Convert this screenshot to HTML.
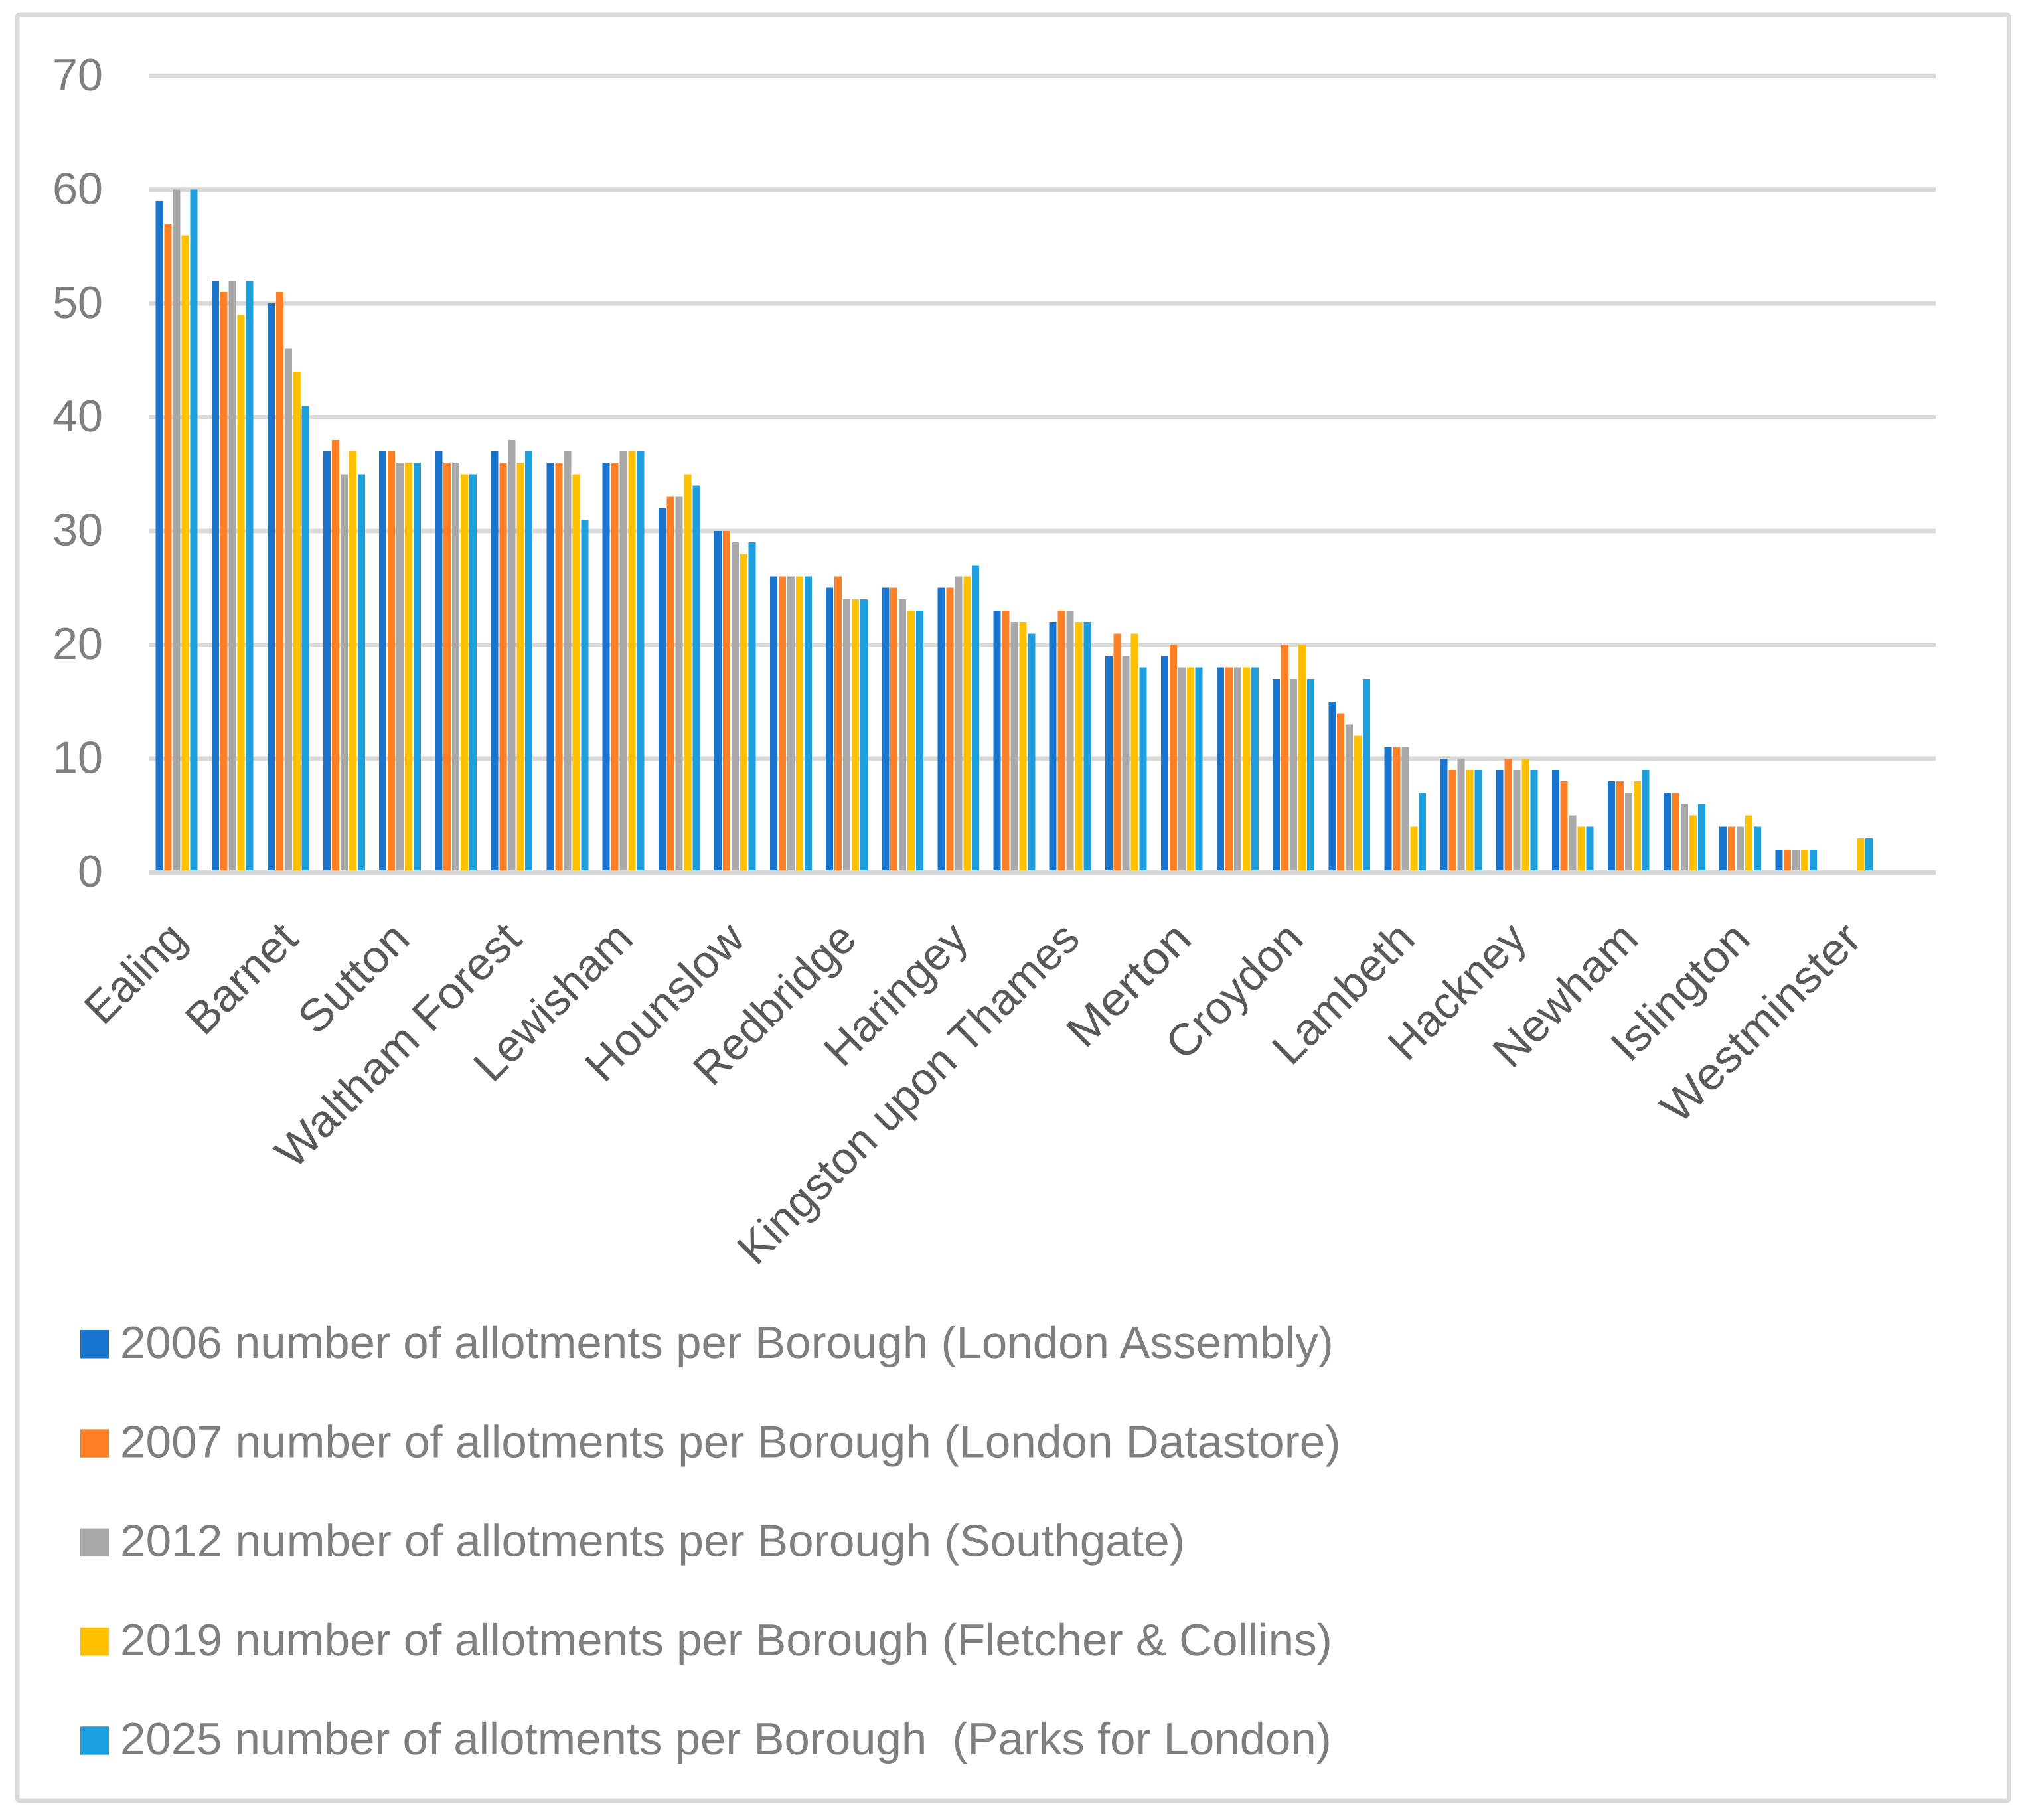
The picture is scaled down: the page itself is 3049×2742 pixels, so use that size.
<!DOCTYPE html>
<html lang="en">
<head>
<meta charset="utf-8">
<title>Number of allotments per London Borough</title>
<style>
html,body{margin:0;padding:0;background:#fff;width:3049px;height:2742px;overflow:hidden}
svg{display:block}
text{font-family:"Liberation Sans",Arial,sans-serif;white-space:pre;text-rendering:geometricPrecision}
</style>
</head>
<body>
<svg id="chart" xmlns="http://www.w3.org/2000/svg" width="3049" height="2742" viewBox="0 0 3049 2742">
  <rect x="0" y="0" width="3049" height="2742" fill="#ffffff"/>
  <rect x="26" y="22" width="3000.5" height="2691" rx="4" ry="4" fill="#ffffff" stroke="#d9d9d9" stroke-width="7"/>
  <g id="grid"></g>
  <g id="yticks"></g>
  <g id="bars"></g>
  <g id="axis"></g>
  <g id="xticks"></g>
  <g id="legend"></g>
</svg>
<script>
const categories = ["Ealing","","Barnet","","Sutton","","Waltham Forest","","Lewisham","","Hounslow","","Redbridge","","Haringey","","Kingston upon Thames","","Merton","","Croydon","","Lambeth","","Hackney","","Newham","","Islington","","Westminster",""];
const yTickLabels = [0,10,20,30,40,50,60,70];
const series2006 = [59,52,50,37,37,37,37,36,36,32,30,26,25,25,25,23,22,19,19,18,17,15,11,10,9,9,8,7,4,2,null,null];
const series2007 = [57,51,51,38,37,36,36,36,36,33,30,26,26,25,25,23,23,21,20,18,20,14,11,9,10,8,8,7,4,2,null,null];
const series2012 = [60,52,46,35,36,36,38,37,37,33,29,26,24,24,26,22,23,19,18,18,17,13,11,10,9,5,7,6,4,2,null,null];
const series2019 = [56,49,44,37,36,35,36,35,37,35,28,26,24,23,26,22,22,21,18,18,20,12,4,9,10,4,8,5,5,2,3,null];
const series2025 = [60,52,41,35,36,35,37,31,37,34,29,26,24,23,27,21,22,18,18,18,17,17,7,9,9,4,9,6,4,2,3,null];
const seriesNames = [
  "2006 number of allotments per Borough (London Assembly)",
  "2007 number of allotments per Borough (London Datastore)",
  "2012 number of allotments per Borough (Southgate)",
  "2019 number of allotments per Borough (Fletcher & Collins)",
  "2025 number of allotments per Borough  (Parks for London)"
];
const seriesColors = ["#1874cd","#ff7f27","#a8a8a8","#ffc000","#1c9fdc"];
const allSeries = [series2006,series2007,series2012,series2019,series2025];

const SVGNS = "http://www.w3.org/2000/svg";
const plotLeft = 224, plotRight = 2916, zeroY = 1314.3, unitY = 17.143;
const barWidth = 11, barPitch = 12.95;
const bandWidth = (plotRight - plotLeft) / categories.length;

function yScale(v){ return zeroY - v * unitY; }
function xBand(i){ return plotLeft + i * bandWidth; }
function xBar(i, s){
  const groupWidth = barPitch * (allSeries.length - 1) + barWidth;
  return xBand(i) + (bandWidth - groupWidth) / 2 + s * barPitch;
}

/* approximate advance widths of the original typeface, used to fit label lengths */
const advances = {a:.479,b:.525,c:.423,d:.525,e:.498,f:.305,g:.471,h:.525,i:.229,j:.239,k:.455,l:.229,m:.799,n:.525,o:.527,p:.525,q:.525,r:.349,s:.391,t:.335,u:.525,v:.452,w:.715,x:.433,y:.453,z:.395," ":.226,A:.579,B:.544,C:.533,D:.615,E:.488,F:.459,G:.631,H:.623,I:.252,J:.319,K:.52,L:.42,M:.855,N:.646,O:.662,P:.517,Q:.673,R:.543,S:.459,T:.487,U:.642,V:.567,W:.89,X:.519,Y:.487,Z:.468,"(":.303,")":.303,"&":.682};
const EM = 75;
function textWidth(str){
  let w = 0;
  for (const ch of String(str)) {
    w += (advances[ch] !== undefined ? advances[ch] : .507);
  }
  return w * EM;
}
/* horizontal fit factor so each label occupies its target width */
function fitScale(el, target){
  const natural = el.getComputedTextLength();
  return natural > 0 ? target / natural : 1;
}
function make(tag, parent){
  const el = document.createElementNS(SVGNS, tag);
  parent.appendChild(el);
  return el;
}

const gridG = document.getElementById("grid");
const yticksG = document.getElementById("yticks");
const barsG = document.getElementById("bars");
const axisG = document.getElementById("axis");
const xticksG = document.getElementById("xticks");
const legendG = document.getElementById("legend");

yTickLabels.forEach(function(t){
  if (t !== 0) {
    const line = make("rect", gridG);
    
    
    line.setAttribute("x", plotLeft);
    line.setAttribute("y", yScale(t) - 3.5);
    line.setAttribute("width", plotRight - plotLeft);
    line.setAttribute("height", 7);
    line.setAttribute("fill", "#d9d9d9");
  }
  const label = make("text", yticksG);
  
  
  label.textContent = String(t);
  label.setAttribute("font-size", 68);
  label.setAttribute("fill", "#7f7f7f");
  const w = textWidth(t);
  label.setAttribute("transform", "translate(" + (155 - w) + " " + (yScale(t) + 21.6) + ") scale(" + fitScale(label, w) + " 1)");
});

allSeries.forEach(function(values, s){
  values.forEach(function(v, i){
    if (v === null) return;
    const bar = make("rect", barsG);
    
    
    bar.setAttribute("x", xBar(i, s));
    bar.setAttribute("y", yScale(v));
    bar.setAttribute("width", barWidth);
    bar.setAttribute("height", zeroY - yScale(v));
    bar.setAttribute("fill", seriesColors[s]);
    bar.setAttribute("shape-rendering", "crispEdges");
  });
});

const axisLine = make("rect", axisG);


axisLine.setAttribute("x", plotLeft);
axisLine.setAttribute("y", yScale(0) - 3.3);
axisLine.setAttribute("width", plotRight - plotLeft);
axisLine.setAttribute("height", 7);
axisLine.setAttribute("fill", "#d9d9d9");

categories.forEach(function(name, i){
  if (!name) return;
  const cx = xBand(i) + bandWidth / 2 + 18;
  const cy = 1418;
  const label = make("text", xticksG);
  
  
  label.textContent = name;
  label.setAttribute("font-size", 68);
  label.setAttribute("fill", "#595959");
  const w = textWidth(name);
  const k = fitScale(label, w);
  label.setAttribute("x", -w / k);
  label.setAttribute("y", 0);
  label.setAttribute("transform", "translate(" + cx + " " + cy + ") rotate(-45) scale(" + k + " 1)");
});

seriesNames.forEach(function(name, s){
  const swatch = make("rect", legendG);
  
  
  swatch.setAttribute("x", 121);
  swatch.setAttribute("y", 2004 + s * 149.3);
  swatch.setAttribute("width", 43);
  swatch.setAttribute("height", 42.5);
  swatch.setAttribute("fill", seriesColors[s]);
  const label = make("text", legendG);
  
  
  label.textContent = name;
  label.setAttribute("font-size", 68);
  label.setAttribute("fill", "#7f7f7f");
  label.setAttribute("transform", "translate(181 " + (2046 + s * 149.3) + ") scale(" + fitScale(label, textWidth(name)) + " 1)");
});
</script>
</body>
</html>
